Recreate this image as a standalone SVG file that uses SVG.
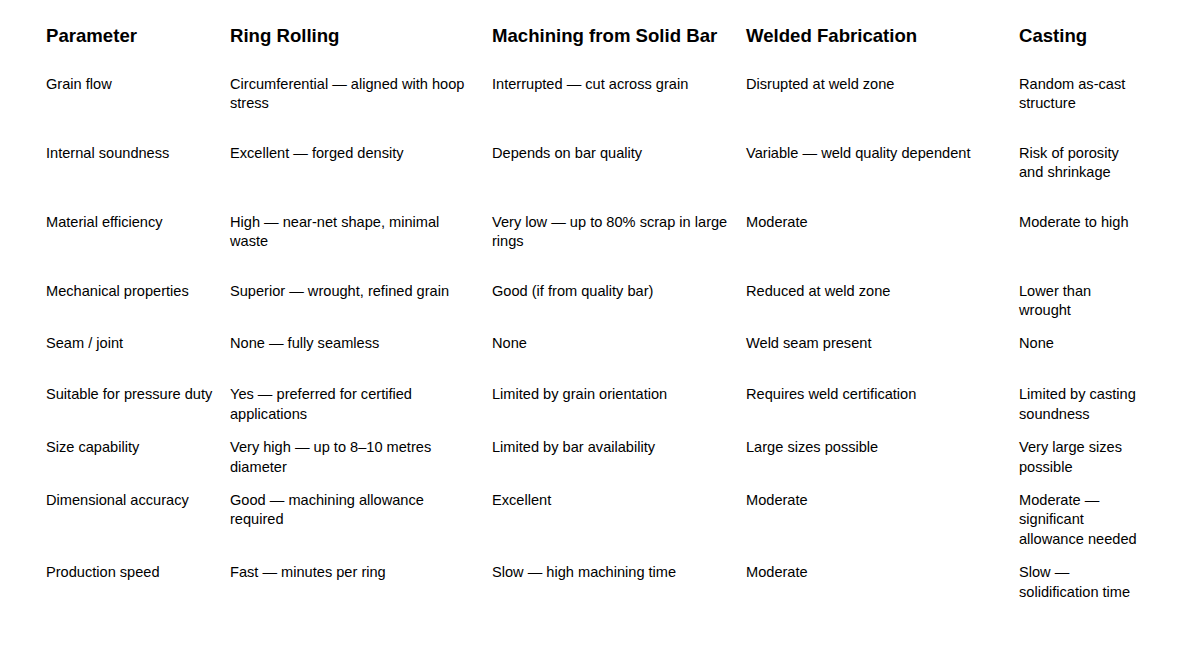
<svg xmlns="http://www.w3.org/2000/svg" width="1186" height="646" viewBox="0 0 1186 646">
<style>
text{font-family:"Liberation Sans",Arial,sans-serif;fill:#000}
.h{font-size:18.6px;font-weight:bold}
.b{font-size:14.6px}
</style>
<rect width="1186" height="646" fill="#fff"/>
<g id="header">
<text class="h" x="46" y="42">Parameter</text>
<text class="h" x="230" y="42">Ring Rolling</text>
<text class="h" x="492" y="42">Machining from Solid Bar</text>
<text class="h" x="746" y="42">Welded Fabrication</text>
<text class="h" x="1019" y="42">Casting</text>
</g>
<g id="rows" class="b">
<g id="r1"><text class="b" x="46" y="89">Grain flow</text><text class="b" x="230" y="89">Circumferential — aligned with hoop</text><text class="b" x="230" y="108">stress</text><text class="b" x="492" y="89">Interrupted — cut across grain</text><text class="b" x="746" y="89">Disrupted at weld zone</text><text class="b" x="1019" y="89">Random as-cast</text><text class="b" x="1019" y="108">structure</text></g>
<g id="r2"><text class="b" x="46" y="158">Internal soundness</text><text class="b" x="230" y="158">Excellent — forged density</text><text class="b" x="492" y="158">Depends on bar quality</text><text class="b" x="746" y="158">Variable — weld quality dependent</text><text class="b" x="1019" y="158">Risk of porosity</text><text class="b" x="1019" y="177">and shrinkage</text></g>
<g id="r3"><text class="b" x="46" y="227">Material efficiency</text><text class="b" x="230" y="227">High — near-net shape, minimal</text><text class="b" x="230" y="246">waste</text><text class="b" x="492" y="227">Very low — up to 80% scrap in large</text><text class="b" x="492" y="246">rings</text><text class="b" x="746" y="227">Moderate</text><text class="b" x="1019" y="227">Moderate to high</text></g>
<g id="r4"><text class="b" x="46" y="296">Mechanical properties</text><text class="b" x="230" y="296">Superior — wrought, refined grain</text><text class="b" x="492" y="296">Good (if from quality bar)</text><text class="b" x="746" y="296">Reduced at weld zone</text><text class="b" x="1019" y="296">Lower than</text><text class="b" x="1019" y="315">wrought</text></g>
<g id="r5"><text class="b" x="46" y="348">Seam / joint</text><text class="b" x="230" y="348">None — fully seamless</text><text class="b" x="492" y="348">None</text><text class="b" x="746" y="348">Weld seam present</text><text class="b" x="1019" y="348">None</text></g>
<g id="r6"><text class="b" x="46" y="399">Suitable for pressure duty</text><text class="b" x="230" y="399">Yes — preferred for certified</text><text class="b" x="230" y="419">applications</text><text class="b" x="492" y="399">Limited by grain orientation</text><text class="b" x="746" y="399">Requires weld certification</text><text class="b" x="1019" y="399">Limited by casting</text><text class="b" x="1019" y="419">soundness</text></g>
<g id="r7"><text class="b" x="46" y="452">Size capability</text><text class="b" x="230" y="452">Very high — up to 8–10 metres</text><text class="b" x="230" y="472">diameter</text><text class="b" x="492" y="452">Limited by bar availability</text><text class="b" x="746" y="452">Large sizes possible</text><text class="b" x="1019" y="452">Very large sizes</text><text class="b" x="1019" y="472">possible</text></g>
<g id="r8"><text class="b" x="46" y="505">Dimensional accuracy</text><text class="b" x="230" y="505">Good — machining allowance</text><text class="b" x="230" y="524">required</text><text class="b" x="492" y="505">Excellent</text><text class="b" x="746" y="505">Moderate</text><text class="b" x="1019" y="505">Moderate —</text><text class="b" x="1019" y="524">significant</text><text class="b" x="1019" y="544">allowance needed</text></g>
<g id="r9"><text class="b" x="46" y="577">Production speed</text><text class="b" x="230" y="577">Fast — minutes per ring</text><text class="b" x="492" y="577">Slow — high machining time</text><text class="b" x="746" y="577">Moderate</text><text class="b" x="1019" y="577">Slow —</text><text class="b" x="1019" y="597">solidification time</text></g>
</g>
</svg>
